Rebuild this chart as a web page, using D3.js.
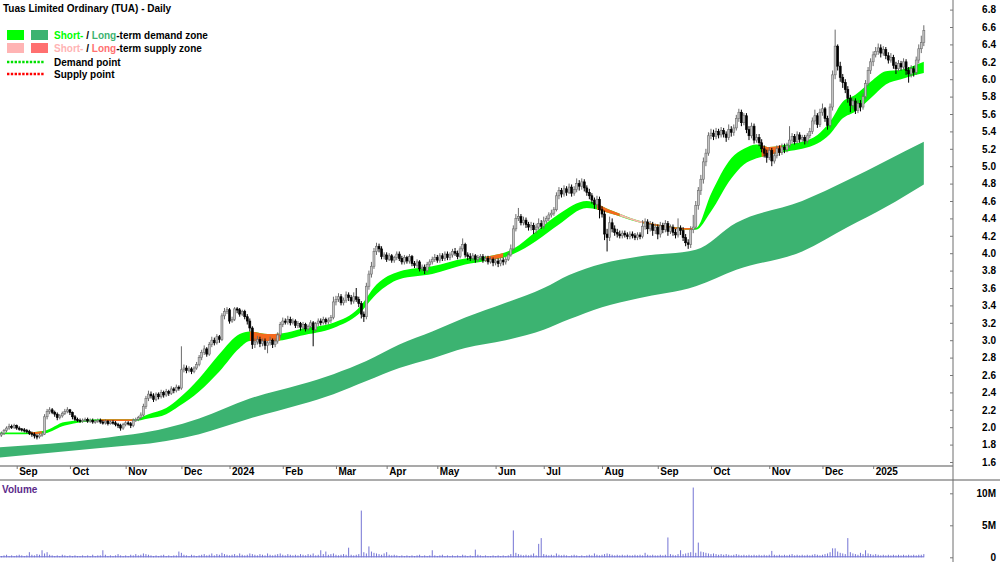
<!DOCTYPE html>
<html>
<head>
<meta charset="utf-8">
<script src="https://cdn.jsdelivr.net/npm/d3@7"></script>
<style>
  body { margin: 0; background: #fff; }
  svg { display: block; font-family: "Liberation Sans", Arial, sans-serif; }
</style>
</head>
<body>
<div id="vis"></div>
<script>
// daily bars, 23 Aug 2023 .. 31 Jan 2025 (index = trading day)
const opens = [
  1.89,1.91,1.93,1.96,1.99,2.01,2.00,2.02,1.99,1.98, 1.97,1.96,1.95,1.93,1.92,1.90,1.89,1.91,1.92,2.12,
  2.18,2.20,2.17,2.15,2.11,2.13,2.16,2.18,2.20,2.17, 2.12,2.09,2.08,2.07,2.08,2.09,2.07,2.08,2.06,2.07,
  2.08,2.06,2.05,2.07,2.04,2.06,2.05,2.03,2.02,1.99, 2.03,2.05,2.04,2.02,2.08,2.09,2.11,2.14,2.24,2.33,
  2.38,2.36,2.32,2.38,2.35,2.40,2.37,2.41,2.39,2.44, 2.42,2.46,2.45,2.66,2.68,2.65,2.67,2.64,2.68,2.72,
  2.80,2.86,2.90,2.84,2.95,3.00,2.97,3.04,3.01,3.28, 3.33,3.35,3.22,3.24,3.36,3.35,3.30,3.33,3.27,3.22,
  3.14,2.95,2.98,3.01,2.96,2.99,2.94,2.97,3.00,2.95, 2.99,3.06,3.18,3.22,3.21,3.24,3.20,3.22,3.17,3.19,
  3.15,3.18,3.13,3.16,3.20,3.12,3.19,3.22,3.20,3.24, 3.21,3.23,3.26,3.44,3.47,3.50,3.43,3.46,3.52,3.49,
  3.45,3.50,3.47,3.42,3.30,3.27,3.62,3.76,3.85,4.02, 4.08,4.05,3.96,3.98,3.93,3.97,3.92,3.95,3.99,3.94,
  3.90,3.95,3.91,3.96,3.88,3.86,3.90,3.82,3.84,3.80, 3.87,3.90,3.93,3.95,3.92,3.97,3.94,3.99,3.95,3.98,
  4.02,4.00,3.96,4.05,4.10,3.98,3.96,3.94,3.97,3.93, 3.95,3.96,3.92,3.94,3.90,3.93,3.89,3.91,3.88,3.92,
  3.90,3.93,3.98,4.05,4.28,4.40,4.42,4.35,4.38,4.33, 4.30,4.32,4.27,4.30,4.34,4.31,4.37,4.40,4.44,4.46,
  4.50,4.66,4.72,4.68,4.74,4.70,4.76,4.69,4.73,4.80, 4.77,4.82,4.75,4.70,4.66,4.61,4.56,4.62,4.50,4.45,
  4.22,4.18,4.35,4.28,4.24,4.22,4.20,4.23,4.21,4.19, 4.22,4.20,4.18,4.21,4.19,4.31,4.36,4.28,4.33,4.26,
  4.30,4.22,4.32,4.27,4.34,4.25,4.30,4.24,4.21,4.29, 4.26,4.18,4.12,4.10,4.27,4.30,4.55,4.72,4.85,5.05,
  5.15,5.35,5.38,5.34,5.40,5.36,5.41,5.37,5.33,5.42, 5.39,5.44,5.55,5.62,5.50,5.58,5.42,5.35,5.46,5.30,
  5.33,5.27,5.20,5.15,5.10,5.18,5.06,5.12,5.20,5.16, 5.22,5.19,5.24,5.30,5.34,5.28,5.36,5.31,5.33,5.29,
  5.35,5.40,5.52,5.58,5.48,5.62,5.66,5.55,5.47,5.68, 6.05,6.38,6.15,6.02,5.96,5.88,5.78,5.70,5.75,5.64,
  5.72,5.68,5.80,5.95,6.10,6.20,6.28,6.32,6.36,6.30, 6.34,6.27,6.22,6.25,6.16,6.12,6.18,6.14,6.20,6.10,
  6.06,6.12,6.08,6.22,6.35,6.42
];
const highs = [
  1.93,1.95,1.98,2.01,2.04,2.03,2.04,2.03,2.01,1.99, 1.99,1.98,1.97,1.95,1.94,1.92,1.93,1.94,2.15,2.21,
  2.23,2.22,2.19,2.17,2.15,2.18,2.21,2.23,2.21,2.18, 2.14,2.11,2.10,2.10,2.11,2.11,2.10,2.10,2.09,2.10,
  2.10,2.08,2.09,2.08,2.08,2.08,2.07,2.05,2.04,2.05, 2.07,2.07,2.06,2.10,2.11,2.13,2.17,2.27,2.36,2.42,
  2.41,2.39,2.40,2.40,2.43,2.42,2.44,2.43,2.47,2.46, 2.49,2.48,2.93,2.72,2.71,2.70,2.69,2.70,2.75,2.83,
  2.89,2.94,2.92,2.98,3.04,3.03,3.07,3.06,3.31,3.37, 3.38,3.37,3.27,3.38,3.38,3.37,3.35,3.35,3.30,3.25,
  3.16,3.02,3.05,3.04,3.02,3.02,2.99,3.04,3.02,3.02, 3.09,3.21,3.26,3.25,3.28,3.27,3.25,3.24,3.22,3.21,
  3.21,3.20,3.18,3.23,3.22,3.21,3.25,3.25,3.27,3.26, 3.26,3.29,3.50,3.51,3.54,3.53,3.49,3.56,3.55,3.52,
  3.55,3.60,3.50,3.45,3.33,3.66,3.80,3.90,4.06,4.12, 4.11,4.08,4.01,4.01,4.00,3.99,3.97,4.02,4.02,3.97,
  3.98,3.97,3.99,3.98,3.91,3.93,3.92,3.87,3.87,3.90, 3.93,3.96,3.99,3.98,4.00,4.00,4.02,4.02,4.01,4.05,
  4.06,4.03,4.08,4.17,4.12,4.01,4.00,4.00,3.99,3.98, 3.99,3.99,3.97,3.97,3.96,3.95,3.94,3.94,3.95,3.95,
  3.96,4.01,4.10,4.32,4.45,4.52,4.45,4.42,4.41,4.36, 4.36,4.35,4.34,4.40,4.38,4.42,4.43,4.47,4.50,4.53,
  4.70,4.76,4.75,4.78,4.77,4.80,4.79,4.77,4.86,4.84, 4.86,4.85,4.78,4.74,4.69,4.64,4.66,4.65,4.54,4.49,
  4.28,4.42,4.40,4.32,4.28,4.26,4.26,4.26,4.24,4.25, 4.25,4.23,4.24,4.24,4.38,4.40,4.39,4.37,4.36,4.34,
  4.33,4.36,4.35,4.38,4.37,4.33,4.33,4.28,4.40,4.32, 4.30,4.22,4.16,4.31,4.44,4.60,4.76,4.90,5.10,5.20,
  5.39,5.43,5.42,5.44,5.43,5.45,5.44,5.40,5.48,5.46, 5.48,5.59,5.66,5.65,5.61,5.61,5.46,5.50,5.49,5.37,
  5.37,5.31,5.24,5.19,5.22,5.21,5.16,5.24,5.24,5.26, 5.26,5.27,5.46,5.38,5.37,5.40,5.39,5.36,5.36,5.38,
  5.44,5.56,5.65,5.61,5.66,5.72,5.68,5.58,5.72,6.10, 6.57,6.40,6.20,6.06,6.00,5.92,5.82,5.79,5.78,5.76,
  5.76,5.84,5.99,6.14,6.24,6.32,6.37,6.41,6.40,6.38, 6.37,6.31,6.30,6.28,6.20,6.22,6.21,6.24,6.23,6.14,
  6.16,6.15,6.26,6.40,6.50,6.62
];
const lows = [
  1.86,1.89,1.91,1.94,1.97,1.98,1.98,1.97,1.96,1.95, 1.94,1.93,1.91,1.89,1.87,1.86,1.87,1.89,1.91,2.09,
  2.15,2.15,2.12,2.08,2.09,2.11,2.14,2.16,2.14,2.09, 2.07,2.06,2.05,2.05,2.06,2.05,2.05,2.04,2.04,2.05,
  2.04,2.03,2.03,2.02,2.03,2.03,2.01,1.99,1.96,1.97, 2.01,2.02,1.99,2.00,2.06,2.07,2.09,2.12,2.21,2.30,
  2.33,2.29,2.30,2.32,2.33,2.34,2.35,2.36,2.37,2.39, 2.40,2.42,2.43,2.63,2.62,2.63,2.61,2.62,2.66,2.70,
  2.77,2.83,2.81,2.82,2.92,2.94,2.95,2.97,2.99,3.24, 3.30,3.19,3.20,3.22,3.31,3.27,3.28,3.24,3.18,3.10,
  2.90,2.91,2.95,2.92,2.93,2.89,2.85,2.94,2.91,2.92, 2.96,3.03,3.15,3.18,3.18,3.17,3.18,3.14,3.14,3.11,
  3.12,3.10,3.11,3.14,2.93,3.10,3.16,3.17,3.18,3.18, 3.18,3.20,3.24,3.40,3.44,3.40,3.40,3.43,3.45,3.41,
  3.42,3.44,3.38,3.25,3.21,3.24,3.58,3.72,3.82,3.98, 4.01,3.93,3.93,3.90,3.91,3.89,3.89,3.92,3.91,3.87,
  3.87,3.88,3.88,3.85,3.83,3.83,3.79,3.79,3.76,3.78, 3.84,3.87,3.90,3.89,3.89,3.91,3.91,3.92,3.92,3.95,
  3.97,3.93,3.94,4.02,3.95,3.92,3.91,3.91,3.89,3.90, 3.92,3.89,3.90,3.87,3.88,3.85,3.86,3.84,3.85,3.86,
  3.87,3.91,3.96,4.03,4.25,4.37,4.32,4.32,4.29,4.26, 4.26,4.22,4.23,4.27,4.28,4.28,4.34,4.37,4.41,4.43,
  4.48,4.62,4.64,4.65,4.66,4.68,4.65,4.66,4.70,4.72, 4.73,4.71,4.66,4.62,4.57,4.51,4.52,4.40,4.41,4.15,
  4.02,4.14,4.24,4.20,4.18,4.17,4.17,4.18,4.16,4.16, 4.17,4.15,4.15,4.16,4.17,4.27,4.22,4.25,4.20,4.22,
  4.16,4.18,4.23,4.24,4.20,4.22,4.20,4.17,4.18,4.21, 4.14,4.08,4.05,4.06,4.23,4.28,4.50,4.67,4.80,5.00,
  5.12,5.31,5.30,5.31,5.32,5.33,5.33,5.28,5.30,5.34, 5.35,5.41,5.51,5.46,5.47,5.38,5.30,5.32,5.26,5.27,
  5.23,5.16,5.10,5.04,5.07,5.00,5.03,5.09,5.12,5.13, 5.15,5.16,5.21,5.26,5.25,5.26,5.27,5.28,5.25,5.26,
  5.32,5.37,5.48,5.44,5.45,5.58,5.51,5.42,5.44,5.64, 6.00,6.10,5.97,5.90,5.84,5.73,5.62,5.66,5.60,5.61,
  5.63,5.65,5.77,5.92,6.06,6.15,6.25,6.28,6.25,6.27, 6.23,6.18,6.19,6.12,6.06,6.09,6.10,6.11,6.05,5.96,
  6.02,6.03,6.05,6.18,6.30,6.38
];
const closes = [
  1.91,1.93,1.96,1.99,2.01,2.00,2.02,1.99,1.98,1.97, 1.96,1.95,1.93,1.92,1.90,1.89,1.91,1.92,2.12,2.18,
  2.20,2.17,2.15,2.11,2.13,2.16,2.18,2.20,2.17,2.12, 2.09,2.08,2.07,2.08,2.09,2.07,2.08,2.06,2.07,2.08,
  2.06,2.05,2.07,2.04,2.06,2.05,2.03,2.02,1.99,2.03, 2.05,2.04,2.02,2.08,2.09,2.11,2.14,2.24,2.33,2.38,
  2.36,2.32,2.38,2.35,2.40,2.37,2.41,2.39,2.44,2.42, 2.46,2.45,2.66,2.68,2.65,2.67,2.64,2.68,2.72,2.80,
  2.86,2.90,2.84,2.95,3.00,2.97,3.04,3.01,3.28,3.33, 3.35,3.22,3.24,3.36,3.35,3.30,3.33,3.27,3.22,3.14,
  2.95,2.98,3.01,2.96,2.99,2.94,2.97,3.00,2.95,2.99, 3.06,3.18,3.22,3.21,3.24,3.20,3.22,3.17,3.19,3.15,
  3.18,3.13,3.16,3.20,3.12,3.19,3.22,3.20,3.24,3.21, 3.23,3.26,3.44,3.47,3.50,3.43,3.46,3.52,3.49,3.45,
  3.50,3.47,3.42,3.30,3.27,3.62,3.76,3.85,4.02,4.08, 4.05,3.96,3.98,3.93,3.97,3.92,3.95,3.99,3.94,3.90,
  3.95,3.91,3.96,3.88,3.86,3.90,3.82,3.84,3.80,3.87, 3.90,3.93,3.95,3.92,3.97,3.94,3.99,3.95,3.98,4.02,
  4.00,3.96,4.05,4.10,3.98,3.96,3.94,3.97,3.93,3.95, 3.96,3.92,3.94,3.90,3.93,3.89,3.91,3.88,3.92,3.90,
  3.93,3.98,4.05,4.28,4.40,4.42,4.35,4.38,4.33,4.30, 4.32,4.27,4.30,4.34,4.31,4.37,4.40,4.44,4.46,4.50,
  4.66,4.72,4.68,4.74,4.70,4.76,4.69,4.73,4.80,4.77, 4.82,4.75,4.70,4.66,4.61,4.56,4.62,4.50,4.45,4.22,
  4.18,4.35,4.28,4.24,4.22,4.20,4.23,4.21,4.19,4.22, 4.20,4.18,4.21,4.19,4.31,4.36,4.28,4.33,4.26,4.30,
  4.22,4.32,4.27,4.34,4.25,4.30,4.24,4.21,4.29,4.26, 4.18,4.12,4.10,4.27,4.30,4.55,4.72,4.85,5.05,5.15,
  5.35,5.38,5.34,5.40,5.36,5.41,5.37,5.33,5.42,5.39, 5.44,5.55,5.62,5.50,5.58,5.42,5.35,5.46,5.30,5.33,
  5.27,5.20,5.15,5.10,5.18,5.06,5.12,5.20,5.16,5.22, 5.19,5.24,5.30,5.34,5.28,5.36,5.31,5.33,5.29,5.35,
  5.40,5.52,5.58,5.48,5.62,5.66,5.55,5.47,5.68,6.05, 6.38,6.15,6.02,5.96,5.88,5.78,5.70,5.75,5.64,5.72,
  5.68,5.80,5.95,6.10,6.20,6.28,6.32,6.36,6.30,6.34, 6.27,6.22,6.25,6.16,6.12,6.18,6.14,6.20,6.10,6.06,
  6.12,6.08,6.22,6.35,6.42,6.56
];
// volume in millions
const volumes = [
  0.3,0.2,0.3,0.4,0.2,0.3,0.2,0.3,0.4,0.3, 0.2,0.3,0.8,0.4,0.3,0.5,0.4,1.1,0.6,0.8,
  0.4,0.3,0.2,0.3,0.2,0.4,0.3,0.2,0.3,0.2, 0.3,0.2,0.2,0.3,0.2,0.3,0.2,0.4,0.2,0.3,
  0.3,1.1,0.4,0.2,0.3,0.2,0.3,0.5,0.3,0.2, 0.3,0.2,0.4,0.3,0.5,0.3,0.4,0.6,0.5,0.4,
  0.3,0.2,0.3,0.2,0.3,0.4,0.2,0.3,0.2,0.3, 0.3,0.9,0.7,0.4,0.3,0.2,0.4,0.3,0.2,0.3,
  0.4,0.5,0.3,0.4,0.6,0.3,0.5,0.4,0.7,0.5, 0.4,0.3,0.4,0.5,0.3,0.6,0.4,0.3,0.4,0.6,
  0.5,0.4,0.3,0.5,0.4,0.3,0.6,0.4,0.3,0.4, 0.5,0.6,0.4,0.3,0.5,0.4,0.3,0.4,0.3,0.5,
  0.4,0.3,0.5,0.4,0.6,0.3,0.4,1.1,0.5,0.9, 0.4,0.5,0.6,0.4,0.3,0.4,0.5,0.4,1.5,0.4,
  0.3,0.4,0.5,7.3,0.8,0.6,1.7,0.9,0.7,0.6, 0.5,0.4,0.6,0.8,0.4,0.3,0.4,0.3,0.2,0.3,
  0.2,0.3,0.2,0.3,0.2,0.3,0.4,0.2,0.3,0.2, 0.3,1.1,0.3,0.2,0.3,0.4,0.2,0.3,0.2,0.3,
  0.2,0.3,0.2,0.4,0.3,0.2,0.3,0.2,1.2,0.4, 0.3,0.2,0.3,0.2,0.2,0.3,0.2,0.3,0.2,0.3,
  0.2,0.3,0.5,4.2,0.7,0.5,0.4,0.3,0.4,0.3, 0.4,0.6,0.3,2.1,3.0,0.5,0.4,0.3,0.4,0.3,
  0.6,0.4,0.3,0.4,0.3,0.2,0.3,0.4,0.3,0.2, 0.3,0.2,0.3,0.4,0.3,0.6,0.4,0.3,0.4,0.5,
  0.6,0.5,0.4,0.3,0.4,0.3,0.4,0.3,0.4,0.3, 0.3,0.4,0.3,0.4,0.3,0.7,0.4,0.3,0.4,0.3,
  0.3,0.4,0.3,0.4,3.1,0.5,0.4,0.3,0.5,1.1, 0.5,0.6,0.7,0.8,10.9,0.7,2.3,0.9,0.8,0.7,
  0.6,0.5,0.6,0.5,0.4,0.5,0.4,0.5,0.4,0.3, 0.4,0.5,0.4,0.3,0.4,0.3,0.4,0.3,0.4,0.3,
  0.4,0.3,0.4,0.3,0.4,1.0,0.4,0.3,0.4,0.3, 0.4,0.3,0.4,0.5,0.3,0.4,0.3,0.4,0.3,0.4,
  0.3,0.4,0.5,0.4,0.3,0.4,0.5,0.6,0.8,1.4, 1.4,0.9,0.7,0.6,0.5,3.0,0.8,0.6,0.5,0.4,
  0.7,0.5,1.1,0.6,0.5,0.4,0.5,0.4,0.3,0.4, 0.3,0.4,0.3,0.4,0.3,0.4,0.3,0.4,0.3,0.4,
  0.3,0.4,0.3,0.4,0.4,0.5
];

// short-term zone, read at these bar indices
const shortIdx = [0, 10, 18, 26, 40, 53, 59, 66, 71, 79, 87, 95, 99, 106, 112, 119, 132, 142, 149, 158, 171, 184,
  192, 203, 212, 221, 232, 241, 252, 262, 270, 275, 281, 289, 294, 299, 304, 311, 317, 323, 328, 333, 338, 344, 350, 356, 365];
const shortTop = [1.94, 1.94, 1.96, 2.06, 2.09, 2.09, 2.15, 2.22, 2.33, 2.56, 2.84, 3.07, 3.10, 3.07, 3.08, 3.13, 3.20, 3.37, 3.64, 3.79, 3.85, 3.94,
  3.96, 4.05, 4.25, 4.45, 4.60, 4.50, 4.38, 4.32, 4.29, 4.29, 4.68, 5.09, 5.20, 5.25, 5.22, 5.25, 5.28, 5.36, 5.51, 5.74, 5.82, 5.97, 6.09, 6.11, 6.20];
const shortBot = [1.92, 1.92, 1.93, 2.02, 2.07, 2.07, 2.10, 2.15, 2.24, 2.41, 2.64, 2.91, 2.99, 2.99, 3.00, 3.05, 3.14, 3.30, 3.53, 3.70, 3.76, 3.87,
  3.91, 3.99, 4.14, 4.33, 4.52, 4.46, 4.36, 4.30, 4.27, 4.27, 4.48, 4.86, 5.02, 5.09, 5.13, 5.17, 5.20, 5.26, 5.37, 5.55, 5.63, 5.78, 5.94, 6.00, 6.07];

// long-term zone
const longIdx = [0, 40, 66, 79, 99, 119, 132, 145, 158, 171, 184, 200, 215, 225, 238, 252, 275, 291, 317, 335, 350, 365];
const longTop = [1.77, 1.87, 1.99, 2.10, 2.33, 2.49, 2.61, 2.76, 2.95, 3.10, 3.26, 3.43, 3.60, 3.75, 3.88, 3.96, 4.04, 4.35, 4.60, 4.84, 5.06, 5.28];
const longBot = [1.65, 1.76, 1.84, 1.92, 2.10, 2.26, 2.38, 2.53, 2.68, 2.79, 2.91, 3.00, 3.12, 3.24, 3.38, 3.48, 3.62, 3.81, 4.02, 4.30, 4.53, 4.79];

// stretches where the short-term zone turns to supply
const supplyFrom = [12, 40, 99, 192, 236, 245, 254, 301];
const supplyTo = [17, 53, 111, 199, 245, 254, 274, 309];
const supplyKind = ['long', 'long', 'long', 'long', 'long', 'short', 'long', 'long'];

const monthTicks = [7, 28, 50, 72, 91, 112, 133, 153, 173, 196, 215, 238, 260, 281, 304, 325, 345];
const monthLabels = ['Sep', 'Oct', 'Nov', 'Dec', '2024', 'Feb', 'Mar', 'Apr', 'May', 'Jun', 'Jul', 'Aug', 'Sep', 'Oct', 'Nov', 'Dec', '2025'];
const priceTicks = [1.6, 1.8, 2.0, 2.2, 2.4, 2.6, 2.8, 3.0, 3.2, 3.4, 3.6, 3.8, 4.0, 4.2, 4.4, 4.6, 4.8, 5.0, 5.2, 5.4, 5.6, 5.8, 6.0, 6.2, 6.4, 6.6, 6.8];
const volumeTicks = [0, 5, 10];
const volumeLabels = ['0', '5M', '10M'];

function stockChart() {
  const width = 1000;
  const height = 562;
  const axisX = 953;
  const priceBottom = 466;
  const dateBottom = 480;

  const colors = {
    shortDemand: '#00ff00',
    longDemand: '#3cb371',
    shortSupply: '#ffb4b4',
    longSupply: '#ff7070',
    supplyFill: { long: '#f5691c', short: '#ffb0b0' },
    up: '#c4c4c4',
    upEdge: '#6b6b6b',
    down: '#000000',
    volume: '#7474d4'
  };

  const x = d3.scaleLinear().domain([0, 376]).range([-1.04, 951.7]);
  const y = d3.scaleLinear().domain([1.6, 6.8]).range([462, 9.6]);
  const yVol = d3.scaleLinear().domain([0, 10]).range([557.3, 493.3]);

  const chart = function chart(selector) {
    const svg = d3.select(selector).append('svg')
      .attr('width', width)
      .attr('height', height);

    const defs = svg.append('defs');
    defs.append('clipPath').attr('id', 'price-clip')
      .append('rect').attr('x', 0).attr('y', 0).attr('width', axisX).attr('height', priceBottom);

    const price = svg.append('g').attr('clip-path', 'url(#price-clip)');

    // zones
    const longData = longIdx.map((d, i) => ({ i: d, hi: longTop[i], lo: longBot[i] }));
    const shortData = shortIdx.map((d, i) => ({ i: d, hi: shortTop[i], lo: shortBot[i] }));

    const zoneArea = d3.area()
      .x((d) => x(d.i))
      .y0((d) => y(d.lo))
      .y1((d) => y(d.hi))
      .curve(d3.curveMonotoneX);

    price.append('path')
      .datum(longData)
      .attr('fill', colors.longDemand)
      .attr('d', zoneArea);

    price.append('path')
      .datum(shortData)
      .attr('fill', colors.shortDemand)
      .attr('d', zoneArea);

    supplyFrom.forEach((from, k) => {
      const id = 'supply-' + k;
      defs.append('clipPath').attr('id', id)
        .append('rect')
        .attr('x', x(from))
        .attr('width', x(supplyTo[k]) - x(from))
        .attr('y', 0)
        .attr('height', priceBottom);
      price.append('path')
        .datum(shortData)
        .attr('clip-path', 'url(#' + id + ')')
        .attr('fill', colors.supplyFill[supplyKind[k]])
        .attr('d', zoneArea);
    });

    // candles
    const bars = closes.map((c, i) => ({ i: i, o: opens[i], h: highs[i], l: lows[i], c: c }));

    const candle = price.selectAll('.candle')
      .data(bars)
      .enter().append('g')
      .classed('candle', true);

    candle.append('line')
      .attr('x1', (d) => x(d.i))
      .attr('x2', (d) => x(d.i))
      .attr('y1', (d) => y(d.h))
      .attr('y2', (d) => y(d.l))
      .attr('stroke', (d) => d.c >= d.o ? colors.upEdge : colors.down)
      .attr('stroke-width', 1);

    candle.append('rect')
      .attr('x', (d) => x(d.i) - 1)
      .attr('width', 2)
      .attr('y', (d) => y(Math.max(d.o, d.c)))
      .attr('height', (d) => Math.max(1.2, Math.abs(y(d.o) - y(d.c))))
      .attr('fill', (d) => d.c >= d.o ? colors.up : colors.down)
      .attr('stroke', (d) => d.c >= d.o ? colors.upEdge : colors.down)
      .attr('stroke-width', 0.6);

    // volume
    svg.append('line')
      .attr('x1', x(0)).attr('x2', x(closes.length - 1))
      .attr('y1', yVol(0) - 0.5).attr('y2', yVol(0) - 0.5)
      .attr('stroke', colors.volume);

    svg.selectAll('.vol')
      .data(volumes)
      .enter().append('line')
      .classed('vol', true)
      .attr('x1', (d, i) => x(i))
      .attr('x2', (d, i) => x(i))
      .attr('y1', yVol(0))
      .attr('y2', (d) => yVol(d))
      .attr('stroke', colors.volume)
      .attr('stroke-width', 1);

    // frame lines
    svg.append('line')
      .attr('x1', 0).attr('x2', axisX)
      .attr('y1', priceBottom).attr('y2', priceBottom)
      .attr('stroke', '#8c8c8c').attr('stroke-width', 1.5);
    svg.append('line')
      .attr('x1', 0).attr('x2', width)
      .attr('y1', dateBottom).attr('y2', dateBottom)
      .attr('stroke', '#5a5a5a').attr('stroke-width', 1);
    svg.append('line')
      .attr('x1', axisX).attr('x2', axisX)
      .attr('y1', 0).attr('y2', height)
      .attr('stroke', '#6e6e6e').attr('stroke-width', 1);

    // axes
    const labelStyle = (g) => g.selectAll('text')
      .attr('font-family', '"Liberation Sans", Arial, sans-serif')
      .attr('font-size', 10)
      .attr('font-weight', 'bold')
      .attr('fill', '#000');

    const xAxis = d3.axisBottom(x)
      .tickValues(monthTicks)
      .tickFormat((d, i) => monthLabels[i])
      .tickSizeInner(3)
      .tickSizeOuter(0);

    svg.append('g')
      .attr('transform', 'translate(0,' + priceBottom + ')')
      .call(xAxis)
      .call((g) => g.select('.domain').remove())
      .call((g) => g.selectAll('line').attr('stroke', '#777'))
      .call((g) => g.selectAll('text').attr('x', 2).attr('y', 2).attr('text-anchor', 'start'))
      .call(labelStyle);

    const yAxis = d3.axisRight(y)
      .tickValues(priceTicks)
      .tickFormat(d3.format('.1f'))
      .tickSizeInner(-3)
      .tickSizeOuter(0);

    svg.append('g')
      .attr('transform', 'translate(' + axisX + ',0)')
      .call(yAxis)
      .call((g) => g.select('.domain').remove())
      .call((g) => g.selectAll('line').attr('stroke', '#777'))
      .call((g) => g.selectAll('text').attr('x', 43).attr('text-anchor', 'end'))
      .call(labelStyle);

    const volAxis = d3.axisRight(yVol)
      .tickValues(volumeTicks)
      .tickFormat((d, i) => volumeLabels[i])
      .tickSizeInner(-3)
      .tickSizeOuter(0);

    svg.append('g')
      .attr('transform', 'translate(' + axisX + ',0)')
      .call(volAxis)
      .call((g) => g.select('.domain').remove())
      .call((g) => g.selectAll('line').attr('stroke', '#777'))
      .call((g) => g.selectAll('text').attr('x', 43).attr('text-anchor', 'end'))
      .call(labelStyle);

    svg.append('text')
      .attr('x', 2).attr('y', 493)
      .attr('font-size', 10).attr('font-weight', 'bold')
      .attr('fill', '#5b2a8a')
      .text('Volume');

    // title + legend
    svg.append('text')
      .attr('x', 3).attr('y', 12)
      .attr('font-size', 10).attr('font-weight', 'bold')
      .text('Tuas Limited Ordinary (TUA) - Daily');

    const legend = svg.append('g').attr('font-size', 10).attr('font-weight', 'bold');

    const zoneRows = [
      { y: 30, a: colors.shortDemand, b: colors.longDemand, what: 'demand' },
      { y: 43, a: colors.shortSupply, b: colors.longSupply, what: 'supply' }
    ];

    zoneRows.forEach((r) => {
      legend.append('rect').attr('x', 7).attr('y', r.y).attr('width', 17).attr('height', 10).attr('fill', r.a);
      legend.append('rect').attr('x', 31).attr('y', r.y).attr('width', 17).attr('height', 10).attr('fill', r.b);
      const t = legend.append('text').attr('x', 54).attr('y', r.y + 9);
      t.append('tspan').attr('fill', r.a).text('Short-');
      t.append('tspan').attr('fill', '#000').text(' / ');
      t.append('tspan').attr('fill', r.b).text('Long');
      t.append('tspan').attr('fill', '#000').text('-term ' + r.what + ' zone');
    });

    const pointRows = [
      { y: 62, color: '#00e000', label: 'Demand point' },
      { y: 74, color: '#ff0000', label: 'Supply point' }
    ];

    pointRows.forEach((r) => {
      legend.append('line')
        .attr('x1', 7).attr('x2', 45)
        .attr('y1', r.y).attr('y2', r.y)
        .attr('stroke', r.color)
        .attr('stroke-width', 2.5)
        .attr('stroke-dasharray', '2.4,1.4');
      legend.append('text').attr('x', 54).attr('y', r.y + 4).attr('fill', '#000').text(r.label);
    });
  };

  return chart;
}

const tuaChart = stockChart();
tuaChart('#vis');
</script>
</body>
</html>
